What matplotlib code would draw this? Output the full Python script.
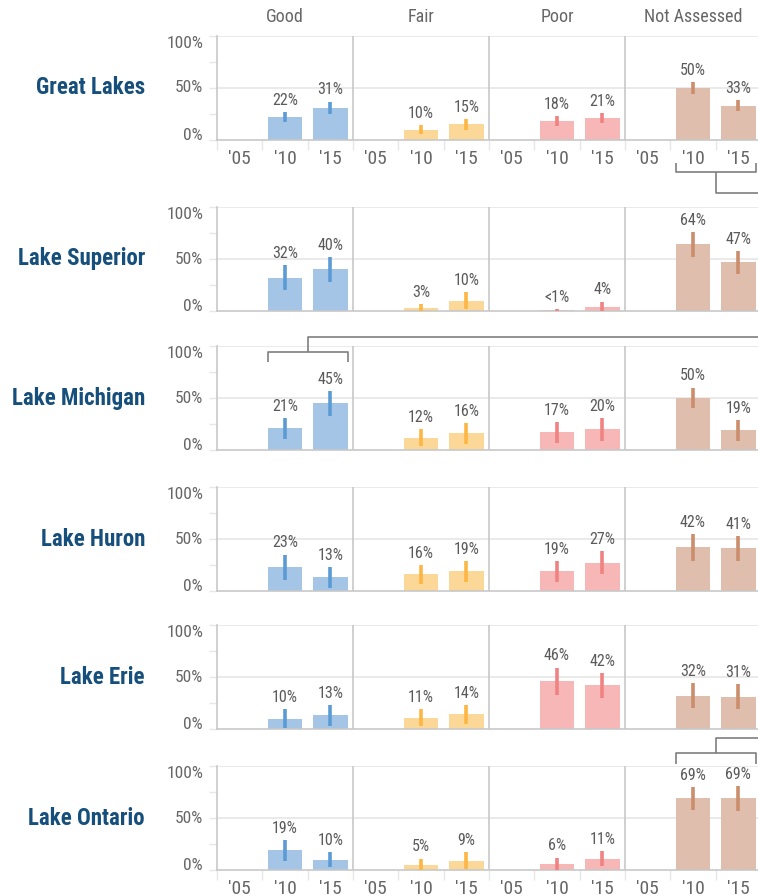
import matplotlib
matplotlib.use("Agg")
import matplotlib.pyplot as plt
from matplotlib import font_manager
from matplotlib.transforms import blended_transform_factory
import numpy as np

# ---- data -------------------------------------------------------------
lakes = ["Great Lakes", "Lake Superior", "Lake Michigan", "Lake Huron", "Lake Erie", "Lake Ontario"]
conditions = ["Good", "Fair", "Poor", "Not Assessed"]
years = ["'05", "'10", "'15"]

# percent of area in each condition class for 2010 and 2015 (no 2005 values)
good_pct = [[22, 31], [32, 40], [21, 45], [23, 13], [10, 13], [19, 10]]
fair_pct = [[10, 15], [3, 10], [12, 16], [16, 19], [11, 14], [5, 9]]
poor_pct = [[18, 21], [0.5, 4], [17, 20], [19, 27], [46, 42], [6, 11]]
na_pct = [[50, 33], [64, 47], [50, 19], [42, 41], [32, 31], [69, 69]]

# margin of error (+/- percentage points)
good_err = [[5, 6], [12, 12], [10, 12], [12, 10], [9, 10], [10, 7]]
fair_err = [[4, 5], [4, 8], [8, 10], [9, 10], [8, 9], [6, 8]]
poor_err = [[5, 5], [1, 5], [10, 11], [10, 11], [13, 12], [6, 7]]
na_err = [[6, 5], [12, 11], [10, 10], [13, 12], [12, 12], [11, 12]]

# significance brackets joining the 2010 and 2015 bars
brackets = [("Great Lakes", "Not Assessed", "below"),
            ("Lake Michigan", "Good", "inside"),
            ("Lake Ontario", "Not Assessed", "above")]

# ---- fonts --------------------------------------------------------------
installed = {f.name for f in font_manager.fontManager.ttflist}
narrow_candidates = ["Liberation Sans Narrow", "Arial Narrow", "DejaVu Sans Condensed",
                     "Noto Sans Condensed", "Roboto Condensed", "Open Sans Condensed"]
narrow = next((f for f in narrow_candidates if f in installed), None)
if narrow:
    base_family = [narrow, "DejaVu Sans"]
    small_scale, title_scale = 1.0, 1.0
else:
    base_family = ["Liberation Sans", "DejaVu Sans"]
    small_scale, title_scale = 0.9, 0.82
plt.rcParams["font.family"] = base_family

FS_VALUE = 11.5 * small_scale
FS_YTICK = 12.5 * small_scale
FS_XTICK = 14 * small_scale
FS_HEAD = 13 * small_scale
FS_TITLE = 16.5 * title_scale

# ---- style ------------------------------------------------------------
bar_colors = ["#a5c5e7", "#fcd898", "#f7b7b7", "#e0bead"]
err_colors = ["#5b9bd5", "#fdb543", "#f08282", "#cb8e6c"]
title_color = "#164f7b"
text_color = "#666666"
value_color = "#5a5a5a"
grid_color = "#e6e6e6"
axis_color = "#c8c8c8"
connector_color = "#7f7f7f"

W, H = 758, 896
fig = plt.figure(figsize=(W / 100, H / 100), dpi=100)
fig.patch.set_facecolor("white")

row_tops = [36, 207, 346, 487, 625, 766]
row_h = 104
ax_left, ax_w = 217, 544

values = [good_pct, fair_pct, poor_pct, na_pct]
errors = [good_err, fair_err, poor_err, na_err]
n_years = len(years)
n_slots = n_years * len(conditions)
bar_w = 0.77


def slot_x(ci, yi):
    return ci * n_years + yi + 0.5


axes = []
for li, lake in enumerate(lakes):
    top = row_tops[li]
    ax = fig.add_axes([ax_left / W, 1 - (top + row_h) / H, ax_w / W, row_h / H])
    axes.append(ax)
    ax.set_xlim(0, n_slots)
    ax.set_ylim(0, 100)
    ax.set_facecolor("none")

    for side in ["top", "right"]:
        ax.spines[side].set_visible(False)
    for side in ["left", "bottom"]:
        ax.spines[side].set_color(axis_color)
        ax.spines[side].set_linewidth(1.2)

    # gridlines at 50 and 100
    for g in [50, 100]:
        ax.axhline(g, color=grid_color, lw=1.2, zorder=0)
    # dividers between condition groups
    for d in range(1, len(conditions)):
        ax.axvline(d * n_years, color=axis_color, lw=1.2, zorder=1)

    # bars and error bars
    for ci in range(len(conditions)):
        vals = values[ci][li]
        errs = errors[ci][li]
        for k, (v, e) in enumerate(zip(vals, errs)):
            x = slot_x(ci, k + 1)
            ax.bar(x, v, width=bar_w, color=bar_colors[ci], zorder=2)
            ax.vlines(x, max(v - e, 0), v + e, color=err_colors[ci], lw=2.6, zorder=3)
            label = "<1%" if v < 1 else f"{v:g}%"
            ax.annotate(label, (x, v + e), xytext=(0, 3), textcoords="offset points",
                        ha="center", va="bottom", fontsize=FS_VALUE, color=value_color,
                        zorder=4)

    # y axis; end labels kept flush inside the axis range
    ax.set_yticks([0, 50, 100])
    ax.set_yticklabels(["0%", "50%", "100%"])
    ax.set_yticks([25, 75], minor=True)
    ax.tick_params(axis="y", which="both", length=6, width=1, color=grid_color,
                   labelsize=FS_YTICK, labelcolor=text_color, pad=4)
    for lab, va in zip(ax.get_yticklabels(), ["baseline", "center", "top"]):
        lab.set_verticalalignment(va)

    # x axis: labels only on the first and last rows
    show_x = li in (0, len(lakes) - 1)
    ax.set_xticks(np.arange(0, n_slots + 1))
    ax.set_xticklabels([])
    ax.set_xticks([slot_x(ci, yi) for ci in range(len(conditions)) for yi in range(n_years)],
                  minor=True)
    if show_x:
        ax.set_xticklabels(years * len(conditions), minor=True)
        ax.tick_params(axis="x", which="major", length=7, width=1, color=grid_color)
        ax.tick_params(axis="x", which="minor", length=0, labelsize=FS_XTICK,
                       labelcolor=text_color, pad=7)
    else:
        ax.tick_params(axis="x", which="both", length=0)

    # lake name
    trans = blended_transform_factory(fig.transFigure, ax.transAxes)
    ax.text(145 / W, 0.5, lake, transform=trans, ha="right", va="center",
            fontsize=FS_TITLE, fontweight="bold", color=title_color)

# column headers
ax0 = axes[0]
for ci, cond in enumerate(conditions):
    ax0.text(ci * n_years + n_years / 2, 1.18, cond,
             transform=blended_transform_factory(ax0.transData, ax0.transAxes),
             ha="center", va="center", fontsize=FS_HEAD, color=text_color)


def draw_bracket(ax, ci, mode):
    x0 = slot_x(ci, 1) - bar_w / 2
    x1 = slot_x(ci, 2) + bar_w / 2
    xm = (x0 + x1) / 2
    tr = blended_transform_factory(ax.transData, ax.transAxes)
    if mode == "below":
        y_leg, y_bar, y_run = -0.22, -0.31, -0.51
    elif mode == "inside":
        y_leg, y_bar, y_run = 0.85, 0.945, 1.085
    else:
        y_leg, y_bar, y_run = 1.02, 1.125, 1.27
    kw = dict(color=connector_color, lw=1.2, transform=tr, clip_on=False,
              solid_capstyle="butt")
    ax.plot([x0, x0, x1, x1], [y_leg, y_bar, y_bar, y_leg], **kw)
    ax.plot([xm, xm, n_slots + 1], [y_bar, y_run, y_run], **kw)


for lake, cond, mode in brackets:
    draw_bracket(axes[lakes.index(lake)], conditions.index(cond), mode)

fig.savefig("out.png", dpi=100, facecolor="white")
